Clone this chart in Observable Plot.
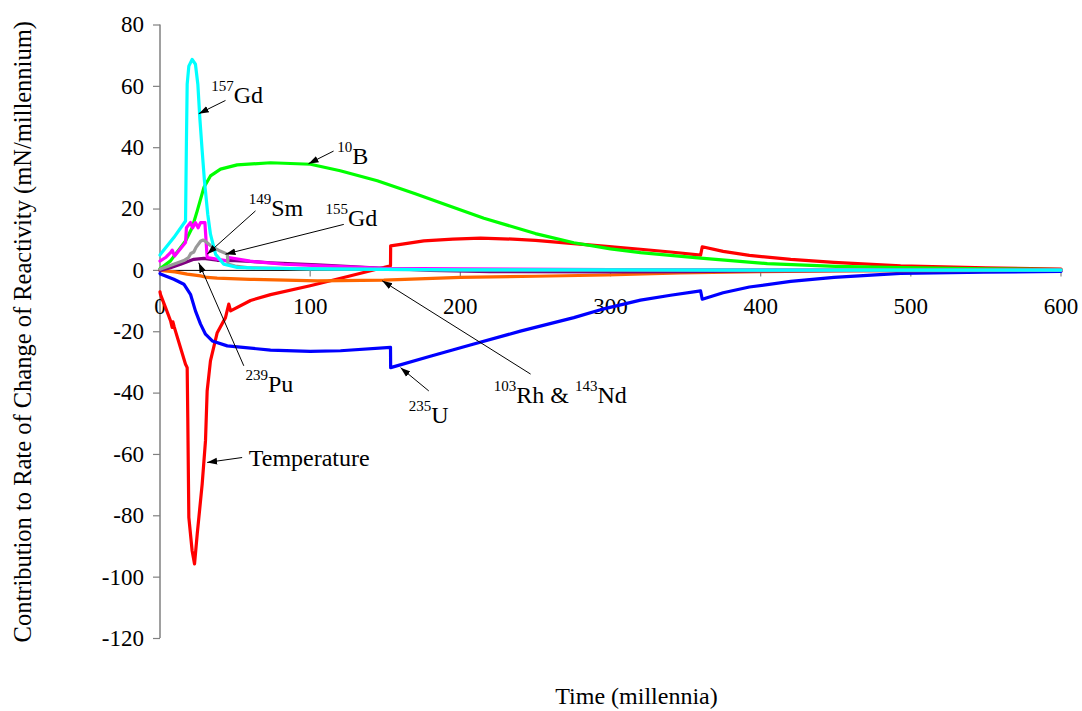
<!DOCTYPE html>
<html><head><meta charset="utf-8">
<script src="https://cdn.jsdelivr.net/npm/d3@7"></script>
<script src="https://cdn.jsdelivr.net/npm/@observablehq/plot@0.6"></script>
<style>html,body{margin:0;padding:0;background:#fff;overflow:hidden}</style>
</head><body><div id="chart"></div><script>
// ---- Data ----
const seriesNames = ["Temperature", "235U", "10B", "103Rh & 143Nd", "239Pu", "149Sm", "155Gd", "157Gd"];
const seriesColors = ["#FF0000", "#0000FF", "#00FF00", "#FF6600", "#800080", "#FF00FF", "#999999", "#00FFFF"];

const tempX = [0, 0.3, 3.7, 7, 8.1, 8.6, 9.5, 17, 18.1, 18.5, 19.2, 21.4, 23, 24.8, 28.1, 30.3, 31.4, 33.6, 38.1, 43.6, 45.8, 47, 60.3, 73.6, 100, 125, 153.5, 153.6, 175.7, 195, 213.5, 235, 250, 275.6, 293.4, 320, 340, 360, 361.1, 375, 392.5, 420, 448.8, 493.2, 550, 600];
const tempY = [-7, -7.8, -12.1, -16.4, -18.6, -16.8, -18.5, -30.6, -31.7, -48, -80.5, -91.4, -95.7, -85.9, -69.6, -55.5, -39.3, -29.5, -20.3, -15.4, -11, -13.2, -9.8, -7.9, -5.0, -2.0, 1.5, 8.0, 9.6, 10.2, 10.5, 10.2, 9.8, 8.7, 8.0, 6.9, 6.0, 5.0, 7.7, 6.2, 4.9, 3.6, 2.6, 1.5, 0.8, 0.4];

const u235X = [0, 0.3, 9.2, 15.9, 20.3, 23.6, 27, 30.3, 34.8, 44.8, 73.6, 100, 120.2, 153.5, 153.6, 180, 209, 240, 275.6, 293.4, 320, 340, 360, 361.1, 375, 392.5, 420, 448.8, 493.2, 548.7, 600];
const u235Y = [-1, -1.2, -2.9, -4.5, -7.8, -13.2, -17.5, -20.8, -23, -24.6, -26, -26.4, -26.2, -25.1, -31.7, -28, -24, -19.8, -15.4, -12.8, -9.7, -8.1, -6.7, -9.4, -7.3, -5.4, -3.6, -2.3, -1, -0.6, -0.3];

const b10X = [0, 7, 17, 21.4, 24.8, 29.2, 33.6, 40.3, 51.4, 73.6, 100.2, 120, 144.7, 170, 190, 215.7, 250, 275.6, 300, 320, 360, 404.4, 450, 493, 550, 600];
const b10Y = [0.5, 3.1, 9.6, 13.9, 19.4, 27, 30.8, 33, 34.4, 35.1, 34.6, 32.5, 29.2, 25, 21.5, 17, 12, 9, 7, 5.8, 4.0, 2.2, 1.3, 0.9, 0.5, 0.3];

const rhndX = [0, 10, 18.1, 27, 31.4, 38.1, 60, 104.7, 149, 200, 250, 297.9, 346.7, 400, 450, 500, 600];
const rhndY = [0, -0.5, -1.2, -1.8, -2.3, -2.5, -2.9, -3.4, -3.2, -2.3, -1.9, -1.5, -0.8, -0.4, -0.2, -0.1, 0];

const pu239X = [0, 7, 13.7, 22.5, 29.2, 38.1, 50, 60.3, 73.6, 104.7, 149, 180, 220, 300, 350, 400, 450, 500, 600];
const pu239Y = [0, 0.9, 2, 3.6, 3.9, 3.3, 3.2, 2.9, 2.5, 1.8, 0.7, 0, -0.4, -0.5, -0.4, -0.2, -0.1, 0, 0];

const sm149X = [0, 3.7, 7, 8.1, 9.7, 17, 17.6, 20.3, 21.8, 23.6, 25.4, 27, 29.9, 31.4, 44.8, 45.8, 60, 82.5, 120, 149, 200, 300, 400, 500, 600];
const sm149Y = [3, 4.2, 5.8, 6.6, 4.7, 9.1, 13.9, 15.6, 13.9, 15.6, 13.9, 15.6, 15.6, 4.2, 3.1, 4.2, 3, 2, 1.2, 0.7, 0.5, 0.3, 0.2, 0.1, 0.1];

const gd155X = [0, 10, 15.9, 19, 20.5, 22.5, 24, 27, 28.5, 30, 33.6, 40, 44.8, 45.3, 50, 58.1, 100, 200, 400, 600];
const gd155Y = [0.4, 2.2, 3.2, 4.2, 5.5, 6, 7.5, 9.5, 9.9, 9.6, 8.1, 6.3, 5.3, 2.1, 1.4, 0.9, 0.5, 0.2, 0.1, 0.1];

const gd157X = [0, 0.3, 9.2, 17, 17.6, 18.1, 19.2, 21.4, 23.6, 25.2, 26.5, 28.1, 29.6, 31.8, 33.6, 37, 42.5, 51.4, 61, 100, 200, 300, 400, 500, 600];
const gd157Y = [5, 5.3, 10.7, 16.1, 42, 60.7, 66.6, 68.8, 67.2, 60.7, 49.8, 38.9, 29.2, 18.3, 11.8, 5.3, 2, 1.0, 0.8, 0.5, 0.2, 0.15, 0.1, 0.1, 0.1];

const xTicks = [0, 100, 200, 300, 400, 500, 600];
const yTicks = [-120, -100, -80, -60, -40, -20, 0, 20, 40, 60, 80];
const xTitle = "Time (millennia)";
const yTitle = "Contribution to Rate of Change of Reactivity (mN/millennium)";

// annotations: {sup} marks superscript parts
const annLabels = ["{157}Gd", "{10}B", "{149}Sm", "{155}Gd", "{239}Pu", "{235}U", "{103}Rh & {143}Nd", "Temperature"];
const annTextX = [34.1, 118, 59.1, 110.2, 56.9, 165.7, 222.3, 59.1];
const annTextY = [54.7, 34.6, 17.8, 14.5, -39.6, -49.7, -43.1, -63.7];
const arrowX1 = [43.6, 115.6, 63.6, 122.4, 55.8, 179, 246.8, 54.7];
const arrowY1 = [55.4, 38.9, 19.4, 15.0, -31.1, -39.3, -33.8, -61];
const arrowX2 = [25.8, 98.9, 31.4, 43.6, 25.8, 160.2, 148, 31.4];
const arrowY2 = [51.1, 34.8, 5.3, 5.3, 2.5, -31.7, -3.4, -62.6];

// ---- Build table ----
const seriesX = [tempX, u235X, b10X, rhndX, pu239X, sm149X, gd155X, gd157X];
const seriesY = [tempY, u235Y, b10Y, rhndY, pu239Y, sm149Y, gd155Y, gd157Y];
const rows = [];
seriesNames.forEach((name, s) => seriesX[s].forEach((x, i) => rows.push({series: name, x, y: seriesY[s][i]})));
const ann = annLabels.map((label, i) => ({label, tx: annTextX[i], ty: annTextY[i], x1: arrowX1[i], y1: arrowY1[i], x2: arrowX2[i], y2: arrowY2[i]}));

const vTick = {draw(ctx) { ctx.moveTo(0, 0); ctx.lineTo(0, 6); }};
const hTick = {draw(ctx) { ctx.moveTo(0, 0); ctx.lineTo(-7, 0); }};

const chart = Plot.plot({
  width: 1082, height: 711,
  marginLeft: 159.5, marginRight: 21.5, marginTop: 24.5, marginBottom: 73,
  x: {domain: [0, 600], axis: null},
  y: {domain: [-120, 80], axis: null},
  color: {domain: seriesNames, range: seriesColors},
  style: {fontFamily: "'Liberation Serif', 'Times New Roman', serif", fontSize: "23px", color: "black", background: "white"},
  marks: [
    Plot.ruleX([0], {y1: yTicks[0], y2: yTicks[yTicks.length - 1], stroke: "#808080", strokeWidth: 1.5}),
    Plot.dot(yTicks, {x: 0, y: d => d, symbol: hTick, stroke: "#808080", fill: "none", strokeWidth: 1.2}),
    Plot.text(yTicks, {x: 0, y: d => d, text: d => String(d), textAnchor: "end", dx: -16, fontSize: 23}),
    Plot.ruleY([0], {stroke: "black", strokeWidth: 1}),
    Plot.dot(xTicks, {x: d => d, y: 0, symbol: vTick, stroke: "#808080", fill: "none", strokeWidth: 1.2}),
    Plot.text(xTicks, {x: d => d, y: 0, text: d => String(d), lineAnchor: "bottom", dy: 43.5, fontSize: 23}),
    Plot.line(rows, {x: "x", y: "y", z: "series", stroke: "series", strokeWidth: 3.2, strokeLinejoin: "round", strokeLinecap: "round"}),
    Plot.link(ann, {x1: "x1", y1: "y1", x2: "x2", y2: "y2", stroke: "black", strokeWidth: 1, markerEnd: "arrow"}),
    Plot.text(ann, {x: "tx", y: "ty", text: "label", textAnchor: "start", lineAnchor: "bottom", fontSize: 24}),
    Plot.text([yTitle], {frameAnchor: "left", rotate: -90, textAnchor: "middle", lineAnchor: "middle", dx: -137, fontSize: 24.5}),
    Plot.text([xTitle], {frameAnchor: "bottom", textAnchor: "middle", lineAnchor: "bottom", dx: 26, dy: 65, fontSize: 24})
  ]
});

// filled triangular arrowheads
chart.querySelectorAll("marker").forEach(m => {
  m.setAttribute("markerWidth", 20);
  m.setAttribute("markerHeight", 20);
  m.setAttribute("fill", "black");
  m.setAttribute("stroke", "none");
  const p = m.querySelector("path");
  if (p) { p.setAttribute("d", "M-5,-1.7L0,0L-5,1.7Z"); p.setAttribute("fill", "black"); p.setAttribute("stroke", "none"); }
});

// superscripts in annotation labels
const NS = "http://www.w3.org/2000/svg";
chart.querySelectorAll("text").forEach(t => {
  const s = t.textContent;
  if (!s.includes("{")) return;
  const parts = s.split(/(\{[^}]*\})/).filter(p => p.length);
  t.textContent = "";
  t.style.whiteSpace = "pre";
  let raised = false;
  parts.forEach(p => {
    const ts = document.createElementNS(NS, "tspan");
    if (p.startsWith("{")) {
      ts.setAttribute("font-size", "15");
      ts.setAttribute("dy", raised ? "0" : "-12");
      raised = true;
      ts.textContent = p.slice(1, -1);
    } else {
      ts.setAttribute("font-size", "24");
      if (raised) ts.setAttribute("dy", "12");
      raised = false;
      ts.textContent = p;
    }
    t.appendChild(ts);
  });
});

document.getElementById("chart").appendChild(chart);
</script></body></html>
